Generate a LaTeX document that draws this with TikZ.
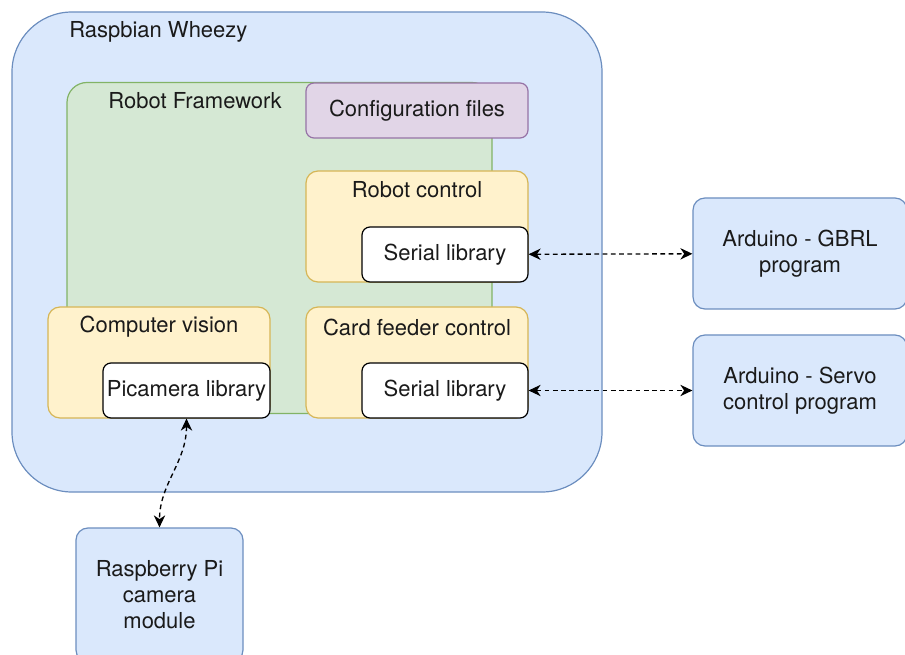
\documentclass[tikz,border=0pt]{standalone}
\usepackage{fontspec}
\setmainfont{TeX Gyre Heros}
\usetikzlibrary{arrows.meta}
\definecolor{blueFill}{HTML}{DAE8FC}
\definecolor{blueLine}{HTML}{6C8EBF}
\definecolor{greenFill}{HTML}{D5E8D4}
\definecolor{greenLine}{HTML}{82B366}
\definecolor{purpleFill}{HTML}{E1D5E7}
\definecolor{purpleLine}{HTML}{9673A6}
\definecolor{yellowFill}{HTML}{FFF2CC}
\definecolor{yellowLine}{HTML}{D6B656}
\definecolor{textGray}{HTML}{1A1A1A}
\tikzset{
    every node/.style={inner sep=0pt, font=\fontsize{16.5}{19.5}\selectfont, text=textGray},
    box/.style={shape=rectangle, line width=0.9pt, rounded corners=6pt},
    bluebox/.style={box, draw=blueLine, fill=blueFill},
    greenbox/.style={box, draw=greenLine, fill=greenFill, rounded corners=15pt},
    purplebox/.style={box, draw=purpleLine, fill=purpleFill},
    yellowbox/.style={box, draw=yellowLine, fill=yellowFill, rounded corners=9pt,
        minimum width=166.5pt, minimum height=83.25pt},
    libbox/.style={box, draw=black, fill=white, minimum height=41.25pt},
    link/.style={dashed, dash pattern=on 3.6pt off 2.6pt, line width=1pt, <->,
        >={Stealth[length=9pt, width=8.5pt, inset=2.8pt]}}
}

\begin{document}
\begin{tikzpicture}[x=0.75pt, y=-0.75pt]
    \useasboundingbox (0,0) rectangle (905,655);
    \clip (0,0) rectangle (905,655);

    % operating system
    \node (wheezy) at (307, 252) [bluebox, rounded corners=45pt,
        minimum width=442.5pt, minimum height=360pt] {};
    \node (wheezylbl) at (69, 32) [anchor=west] {Raspbian Wheezy};

    % framework
    \node (framework) at (279.5, 248) [greenbox,
        minimum width=318.75pt, minimum height=248.25pt] {};
    \node (frameworklbl) at (195, 101) {Robot Framework};

    \node (config) at (417, 110.5) [purplebox,
        minimum width=166.5pt, minimum height=41.25pt] {Configuration files};

    \node (robotctl) at (417, 226.5) [yellowbox] {};
    \node (robotctllbl) at (417, 190) {Robot control};
    \node (serialrc) at (445, 254.5) [libbox, minimum width=124.5pt] {Serial library};

    \node (feeder) at (417, 362.5) [yellowbox] {};
    \node (feederlbl) at (417, 327) {Card feeder control};
    \node (serialcf) at (445, 390.5) [libbox, minimum width=124.5pt] {Serial library};

    \node (vision) at (159, 362.5) [yellowbox] {};
    \node (visionlbl) at (159, 327) {Computer vision};
    \node (picam) at (186.5, 390.5) [libbox, minimum width=125.25pt] {Picamera library};

    % hardware
    \node (gbrl) at (800, 253.5) [bluebox, rounded corners=9pt, align=center,
        minimum width=160.5pt, minimum height=83.25pt] {Arduino - GBRL\\program};
    \node (servo) at (800, 390.5) [bluebox, rounded corners=9pt, align=center,
        minimum width=160.5pt, minimum height=83.25pt] {Arduino - Servo\\control program};
    \node (camera) at (159.5, 595) [bluebox, rounded corners=9pt, align=center,
        minimum width=125.25pt, minimum height=100.5pt] {Raspberry Pi\\camera\\module};

    \draw (serialrc) edge [link] (gbrl);
    \draw (serialcf) edge [link] (servo);
    \draw (picam.south) edge [link, out=-90, in=90] (camera.north);
\end{tikzpicture}
\end{document}
